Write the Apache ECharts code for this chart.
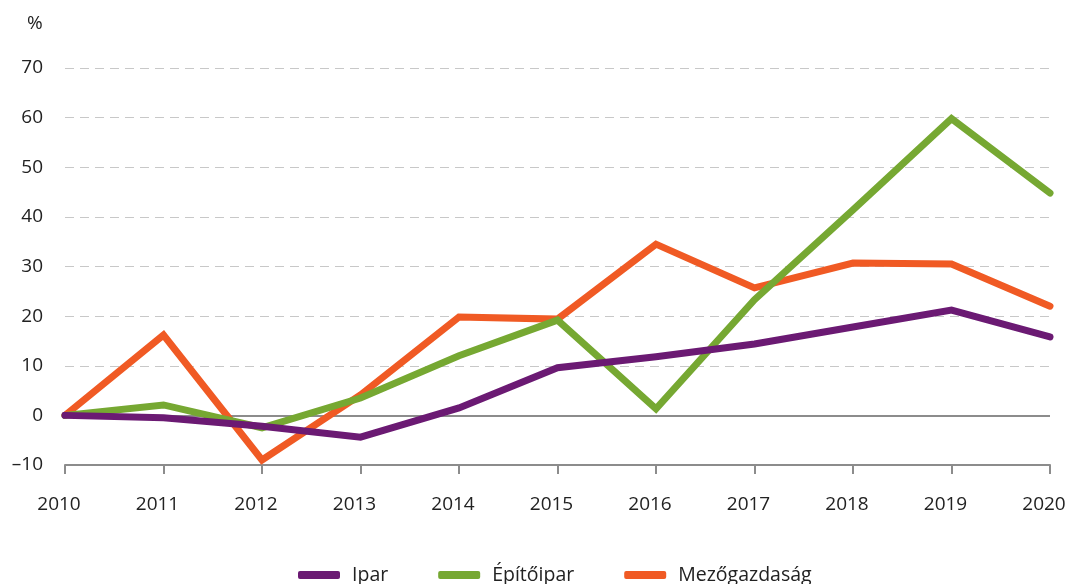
<!DOCTYPE html>
<html>
<head>
<meta charset="utf-8">
<script src="https://cdn.jsdelivr.net/npm/echarts@6/dist/echarts.min.js"></script>
<style>html,body{margin:0;padding:0;background:#fff}#c{width:1070px;height:584px}</style>
</head>
<body>
<div id="c"></div>
<script>
const years = ['2010','2011','2012','2013','2014','2015','2016','2017','2018','2019','2020'];
const ipar = [0, -0.5, -2.2, -4.4, 1.5, 9.6, 11.8, 14.4, 17.8, 21.2, 15.8];
const epitoipar = [0, 2.1, -2.5, 3.5, 12.0, 19.2, 1.3, 23.3, 41.4, 59.8, 44.8];
const mezogazdasag = [0, 16.2, -9.0, 4.1, 19.8, 19.4, 34.5, 25.7, 30.7, 30.5, 22.0];
const seriesNames = ['Ipar', 'Építőipar', 'Mezőgazdaság'];
const colors = ['#6b1a73', '#76a832', '#f05a24'];

const font = '"Open Sans", "Noto Sans", sans-serif';
const chart = echarts.init(document.getElementById('c'), null, {renderer: 'canvas'});
function mk(name, data, color, z) {
  return {
    name, type: 'line', data, color, z,
    symbol: 'none', smooth: false,
    lineStyle: {width: 7, color, cap: 'round', join: 'miter'},
    emphasis: {disabled: true}
  };
}
const s = [
  mk(seriesNames[2], mezogazdasag, colors[2], 3),
  mk(seriesNames[1], epitoipar, colors[1], 4),
  mk(seriesNames[0], ipar, colors[0], 5)
];
s[0].markLine = {
  silent: true, symbol: 'none', z: 1,
  label: {show: false},
  lineStyle: {color: '#8c8c8c', width: 2, type: 'solid'},
  data: [{yAxis: 0}]
};
chart.setOption({
  animation: false,
  backgroundColor: '#fff',
  textStyle: {fontFamily: font},
  title: {text: '%', left: 22, top: 9, textStyle: {fontFamily: font, fontSize: 19, fontWeight: 'normal', color: '#222'}},
  grid: {left: 65, right: 20, top: 68, bottom: 119, containLabel: false, outerBoundsMode: 'none'},
  legend: {
    data: seriesNames, top: 560, left: 293,
    itemWidth: 42, itemHeight: 8, itemGap: 50,
    icon: 'roundRect',
    textStyle: {fontFamily: font, fontSize: 19.5, color: '#222', padding: [0, 0, 0, 7]}
  },
  xAxis: {
    type: 'category', data: years, boundaryGap: false,
    axisLine: {onZero: false, lineStyle: {color: '#8c8c8c', width: 2}},
    axisTick: {show: true, length: 9, lineStyle: {color: '#8c8c8c', width: 2}},
    axisLabel: {margin: 30, fontSize: 19, color: '#222', fontFamily: font, padding: [0, 12, 0, 0]},
    splitLine: {show: false}
  },
  yAxis: {
    type: 'value', min: -10, max: 70, interval: 10,
    axisLine: {show: false}, axisTick: {show: false},
    axisLabel: {margin: 22, fontSize: 19, color: '#222', fontFamily: font,
      formatter: v => String(v).replace('-', '–')},
    splitLine: {lineStyle: {color: '#c8c8c8', type: [9, 6], width: 1.2}}
  },
  series: s
});
</script>
</body>
</html>
